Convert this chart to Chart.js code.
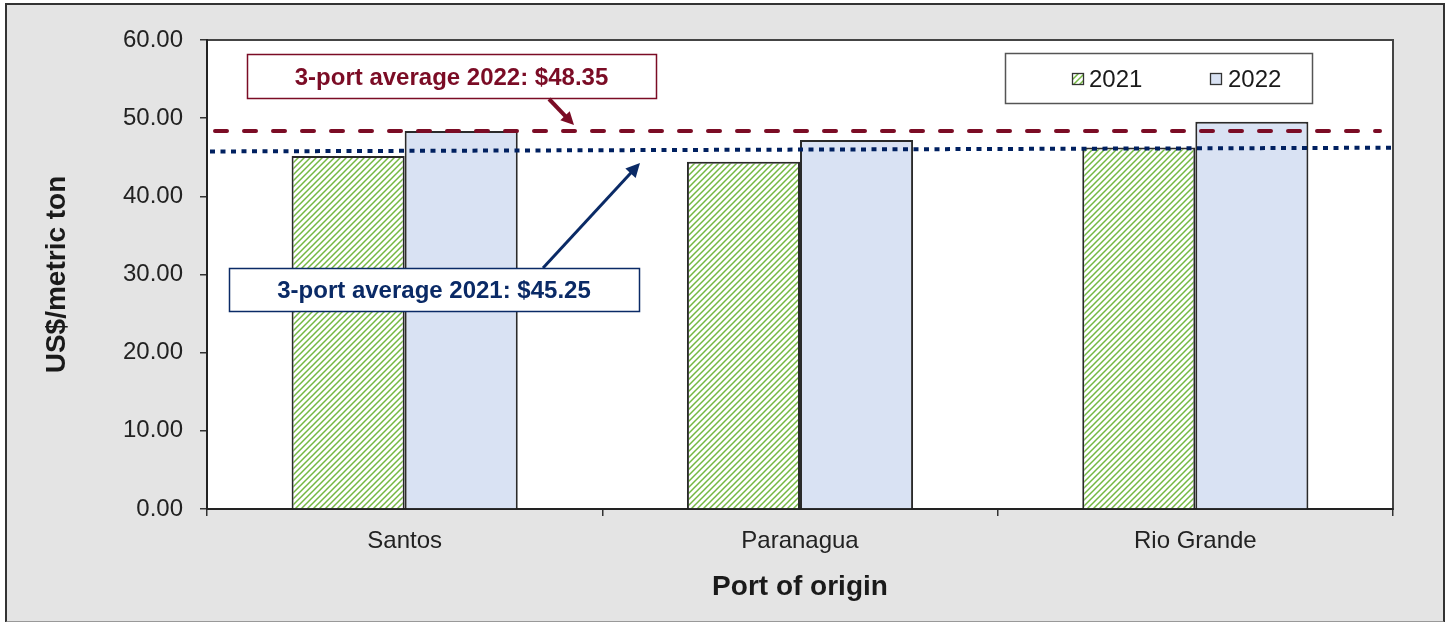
<!DOCTYPE html>
<html><head><meta charset="utf-8">
<script src="https://cdn.jsdelivr.net/npm/chart.js@4/dist/chart.umd.min.js"></script>
<style>
html,body{margin:0;padding:0;background:#fff;width:1450px;height:622px;overflow:hidden}
#frame{position:absolute;left:5px;top:3px;width:1440px;height:620px;box-sizing:border-box;border:2px solid #333;border-bottom-color:#999;background:#e4e4e4}
#c{position:absolute;left:0;top:0}
</style></head><body>
<div id="frame"></div>
<canvas id="c" width="1450" height="622"></canvas>
<script>
// ---- data ----
const categories = ['Santos', 'Paranagua', 'Rio Grande'];
const seriesLabels = ['2021', '2022'];
const values2021 = [45.17, 44.44, 46.24];
const values2022 = [48.37, 47.22, 49.53];
const yTicks = [0, 10, 20, 30, 40, 50, 60];
const avg2021 = 45.25;
const avg2022 = 48.35;
const avg2021LineEnds = [45.74, 46.22]; // dotted line as drawn in original (slightly tilted)
const xTitle = 'Port of origin';
const yTitle = 'US$/metric ton';

const FONT = "'Liberation Sans', Arial, Helvetica, sans-serif";
const RED = '#7b0c25';
const NAVY = '#0a2a66';
const canvas = document.getElementById('c');
const ctx0 = canvas.getContext('2d');

function makeHatch() {
  const t = document.createElement('canvas');
  t.width = t.height = 6;
  const g = t.getContext('2d');
  g.fillStyle = '#ffffff'; g.fillRect(0, 0, 6, 6);
  g.strokeStyle = '#74b842'; g.lineWidth = 1.5;
  g.beginPath();
  g.moveTo(0, 6); g.lineTo(6, 0);
  g.moveTo(-1, 1); g.lineTo(1, -1);
  g.moveTo(5, 7); g.lineTo(7, 5);
  g.stroke();
  return ctx0.createPattern(t, 'repeat');
}
const hatch = makeHatch();
const fill2022 = '#d9e2f3';

function arrow(ctx, x1, y1, x2, y2, color, w, head) {
  const a = Math.atan2(y2 - y1, x2 - x1);
  ctx.save();
  ctx.setLineDash([]);
  ctx.strokeStyle = color; ctx.lineWidth = w; ctx.lineCap = 'butt';
  ctx.beginPath(); ctx.moveTo(x1, y1);
  ctx.lineTo(x2 - Math.cos(a) * head * 0.8, y2 - Math.sin(a) * head * 0.8);
  ctx.stroke();
  ctx.fillStyle = color;
  ctx.beginPath(); ctx.moveTo(x2, y2);
  ctx.lineTo(x2 - head * Math.cos(a) + head * 0.5 * Math.sin(a), y2 - head * Math.sin(a) - head * 0.5 * Math.cos(a));
  ctx.lineTo(x2 - head * Math.cos(a) - head * 0.5 * Math.sin(a), y2 - head * Math.sin(a) + head * 0.5 * Math.cos(a));
  ctx.closePath(); ctx.fill();
  ctx.restore();
}

function labelBox(ctx, x, y, w, h, text, color) {
  ctx.save();
  ctx.setLineDash([]);
  ctx.fillStyle = '#fff';
  ctx.fillRect(x, y, w, h);
  ctx.strokeStyle = color; ctx.lineWidth = 1.5;
  ctx.strokeRect(x + 0.5, y + 0.5, w, h);
  ctx.fillStyle = color;
  ctx.font = 'bold 24px ' + FONT;
  ctx.textAlign = 'center'; ctx.textBaseline = 'middle';
  ctx.fillText(text, x + w / 2, y + h / 2 + 2);
  ctx.restore();
}

const decor = {
  id: 'decor',
  beforeDraw(chart) {
    const {ctx, chartArea: ca} = chart;
    ctx.save();
    ctx.fillStyle = '#fff';
    ctx.fillRect(ca.left, ca.top, ca.right - ca.left, ca.bottom - ca.top);
    ctx.strokeStyle = '#444'; ctx.lineWidth = 2;
    ctx.strokeRect(ca.left, ca.top, ca.right - ca.left, ca.bottom - ca.top);
    ctx.restore();
  },
  afterDatasetsDraw(chart) {
    const {ctx, chartArea: ca, scales: {y}} = chart;
    ctx.save();
    // 2022 average: dashed maroon
    const yr = y.getPixelForValue(avg2022);
    ctx.strokeStyle = RED; ctx.lineWidth = 4; ctx.lineCap = 'round';
    ctx.setLineDash([12, 17]);
    ctx.beginPath(); ctx.moveTo(ca.left + 8, yr); ctx.lineTo(ca.right - 13, yr); ctx.stroke();
    // 2021 average: dotted navy
    ctx.strokeStyle = '#002060'; ctx.lineWidth = 4; ctx.lineCap = 'butt';
    ctx.setLineDash([5, 5.5]);
    ctx.beginPath();
    ctx.moveTo(ca.left + 3, y.getPixelForValue(avg2021LineEnds[0]));
    ctx.lineTo(ca.right, y.getPixelForValue(avg2021LineEnds[1]));
    ctx.stroke();
    ctx.restore();

    // annotation boxes and arrows
    const L = ca.left, T = ca.top;
    labelBox(ctx, L + 40, T + 14, 409, 44, '3-port average 2022: $' + avg2022.toFixed(2), RED);
    arrow(ctx, L + 342, T + 59, L + 367, yr - 6, RED, 4, 13);
    labelBox(ctx, L + 22, T + 228, 410, 43, '3-port average 2021: $' + avg2021.toFixed(2), NAVY);
    arrow(ctx, L + 336, T + 228, L + 433, T + 123, NAVY, 3, 14);

    // legend
    const lx = 1005, ly = 53, lw = 307, lh = 50;
    ctx.save();
    ctx.setLineDash([]);
    ctx.fillStyle = '#fff'; ctx.fillRect(lx, ly, lw, lh);
    ctx.strokeStyle = '#555'; ctx.lineWidth = 1.5; ctx.strokeRect(lx + 0.5, ly + 0.5, lw, lh);
    const fills = [hatch, fill2022];
    const sw = [1072, 1210], tx = [1089, 1228];
    ctx.font = '24px ' + FONT; ctx.textBaseline = 'middle'; ctx.textAlign = 'left';
    for (let i = 0; i < 2; i++) {
      ctx.fillStyle = fills[i];
      ctx.fillRect(sw[i], 73, 12, 12);
      ctx.strokeStyle = '#333'; ctx.lineWidth = 1.3;
      ctx.strokeRect(sw[i] + 0.5, 73.5, 11, 11);
      ctx.fillStyle = '#1a1a1a';
      ctx.fillText(chart.data.datasets[i].label, tx[i], 80);
    }
    ctx.restore();
  }
};

new Chart(canvas, {
  type: 'bar',
  data: {
    labels: categories,
    datasets: [
      {label: seriesLabels[0], data: values2021, backgroundColor: hatch, borderColor: '#2a2a2a', borderWidth: 2,
       categoryPercentage: 0.572, barPercentage: 1},
      {label: seriesLabels[1], data: values2022, backgroundColor: fill2022, borderColor: '#2a2a2a', borderWidth: 2,
       categoryPercentage: 0.572, barPercentage: 1}
    ]
  },
  options: {
    responsive: false,
    animation: false,
    devicePixelRatio: 1,
    layout: {padding: {top: 40, right: 57, left: 0, bottom: 0}},
    plugins: {legend: {display: false}, tooltip: {enabled: false}},
    scales: {
      x: {
        grid: {display: true, drawOnChartArea: false, drawTicks: true, tickLength: 7, color: '#333', lineWidth: 1.5, offset: true},
        border: {display: true, color: '#222', width: 2},
        ticks: {color: '#222', font: {family: FONT, size: 24}, padding: 11},
        title: {display: true, text: xTitle, color: '#1a1a1a', font: {family: FONT, size: 28, weight: 'bold'}, padding: {top: 0, bottom: 18}},
        afterFit(s) { s.height = 113; }
      },
      y: {
        min: 0, max: 60,
        afterBuildTicks(s) { s.ticks = yTicks.map(v => ({value: v})); },
        ticks: {color: '#222', font: {family: FONT, size: 24}, padding: 17, callback: v => Number(v).toFixed(2)},
        grid: {display: true, drawOnChartArea: false, drawTicks: true, tickLength: 7, color: '#333', lineWidth: 1.5},
        border: {display: true, color: '#222', width: 2},
        title: {display: true, text: yTitle, color: '#1a1a1a', font: {family: FONT, size: 28, weight: 'bold'}, padding: {top: 40, bottom: 0}},
        afterFit(s) { s.width = 207; }
      }
    }
  },
  plugins: [decor]
});
</script>
</body></html>
